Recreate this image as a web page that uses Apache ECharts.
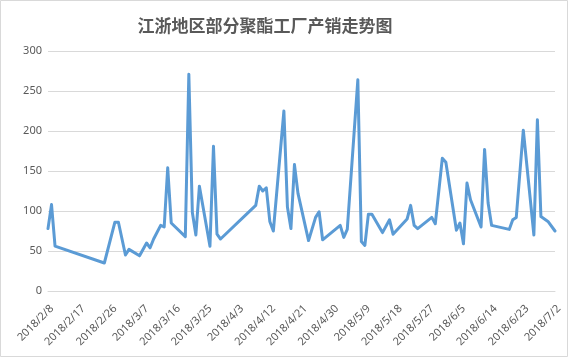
<!DOCTYPE html>
<html><head><meta charset="utf-8">
<script src="https://cdn.jsdelivr.net/npm/echarts@6/dist/echarts.min.js"></script>
<style>html,body{margin:0;padding:0;background:#fff}#c{width:572px;height:358px}</style>
</head><body><div id="c"></div>
<script>
const title = '江浙地区部分聚酯工厂产销走势图';
const startDate = '2018-02-08';
const endDate = '2018-07-02';
const tickStepDays = 9;
const yTicks = [0, 50, 100, 150, 200, 250, 300];
const dates = ['2018-02-08','2018-02-09','2018-02-10','2018-02-24','2018-02-27','2018-02-28','2018-03-02','2018-03-03','2018-03-06','2018-03-08','2018-03-09','2018-03-10','2018-03-12','2018-03-13','2018-03-14','2018-03-15','2018-03-19','2018-03-20','2018-03-21','2018-03-22','2018-03-23','2018-03-26','2018-03-27','2018-03-28','2018-03-29','2018-04-08','2018-04-09','2018-04-10','2018-04-11','2018-04-12','2018-04-13','2018-04-16','2018-04-17','2018-04-18','2018-04-19','2018-04-20','2018-04-23','2018-04-25','2018-04-26','2018-04-27','2018-05-02','2018-05-03','2018-05-04','2018-05-07','2018-05-08','2018-05-09','2018-05-10','2018-05-11','2018-05-14','2018-05-16','2018-05-17','2018-05-21','2018-05-22','2018-05-23','2018-05-24','2018-05-28','2018-05-29','2018-05-31','2018-06-01','2018-06-04','2018-06-05','2018-06-06','2018-06-07','2018-06-08','2018-06-11','2018-06-12','2018-06-13','2018-06-14','2018-06-19','2018-06-20','2018-06-21','2018-06-23','2018-06-26','2018-06-27','2018-06-28','2018-06-30','2018-07-02'];
const values = [78,108,56,35,86,86,45,52,44,60,54,65,82,80,154,85,68,271,98,70,131,56,181,71,65,107,131,125,129,87,75,225,105,78,158,122,63,92,99,64,82,67,77,264,62,57,96,96,73,89,71,90,107,82,78,92,84,166,161,76,85,59,135,114,80,177,110,82,77,89,92,201,70,214,93,87,75];

const DAY = 86400000;
const t0 = Date.parse(startDate + 'T00:00:00Z');
const dayOf = s => Math.round((Date.parse(s + 'T00:00:00Z') - t0) / DAY);
const totalDays = dayOf(endDate);
const seriesData = dates.map((d, i) => [dayOf(d), values[i]]);
const fmt = v => { const d = new Date(t0 + v * DAY); return d.getUTCFullYear() + '/' + (d.getUTCMonth() + 1) + '/' + d.getUTCDate(); };

const chart = echarts.init(document.getElementById('c'), null, {renderer: 'canvas'});
chart.setOption({
  animation: false,
  backgroundColor: '#fff',
  title: {
    text: title, left: 260, top: 12, textAlign: 'center',
    textStyle: {fontFamily: '"Noto Sans CJK SC", sans-serif', fontSize: 17, fontWeight: 'bold', color: '#595959'}
  },
  grid: {left: 48, right: 17, top: 51, bottom: 67},
  xAxis: {
    type: 'value', min: 0, max: totalDays, interval: tickStepDays,
    axisLine: {show: true, lineStyle: {color: '#d9d9d9', width: 1}},
    axisTick: {show: false},
    splitLine: {show: false},
    axisLabel: {rotate: 45, margin: 12, verticalAlign: 'top', formatter: fmt, color: '#595959', fontSize: 11, fontFamily: '"Noto Sans", sans-serif'}
  },
  yAxis: {
    type: 'value', min: yTicks[0], max: yTicks[yTicks.length - 1], interval: yTicks[1] - yTicks[0],
    axisLine: {show: false}, axisTick: {show: false},
    splitLine: {lineStyle: {color: '#d9d9d9', width: 1}},
    axisLabel: {color: '#595959', fontSize: 11, margin: 6, fontFamily: '"Noto Sans", sans-serif'}
  },
  series: [{
    type: 'line', data: seriesData, showSymbol: false, symbol: 'none',
    lineStyle: {color: '#5b9bd5', width: 3, join: 'round', cap: 'round'}
  }],
  graphic: [{
    type: 'rect', silent: true, z: 100,
    shape: {x: 0.5, y: 0.5, width: 567, height: 356},
    style: {fill: 'none', stroke: '#d9d9d9', lineWidth: 1}
  }]
});
</script></body></html>
